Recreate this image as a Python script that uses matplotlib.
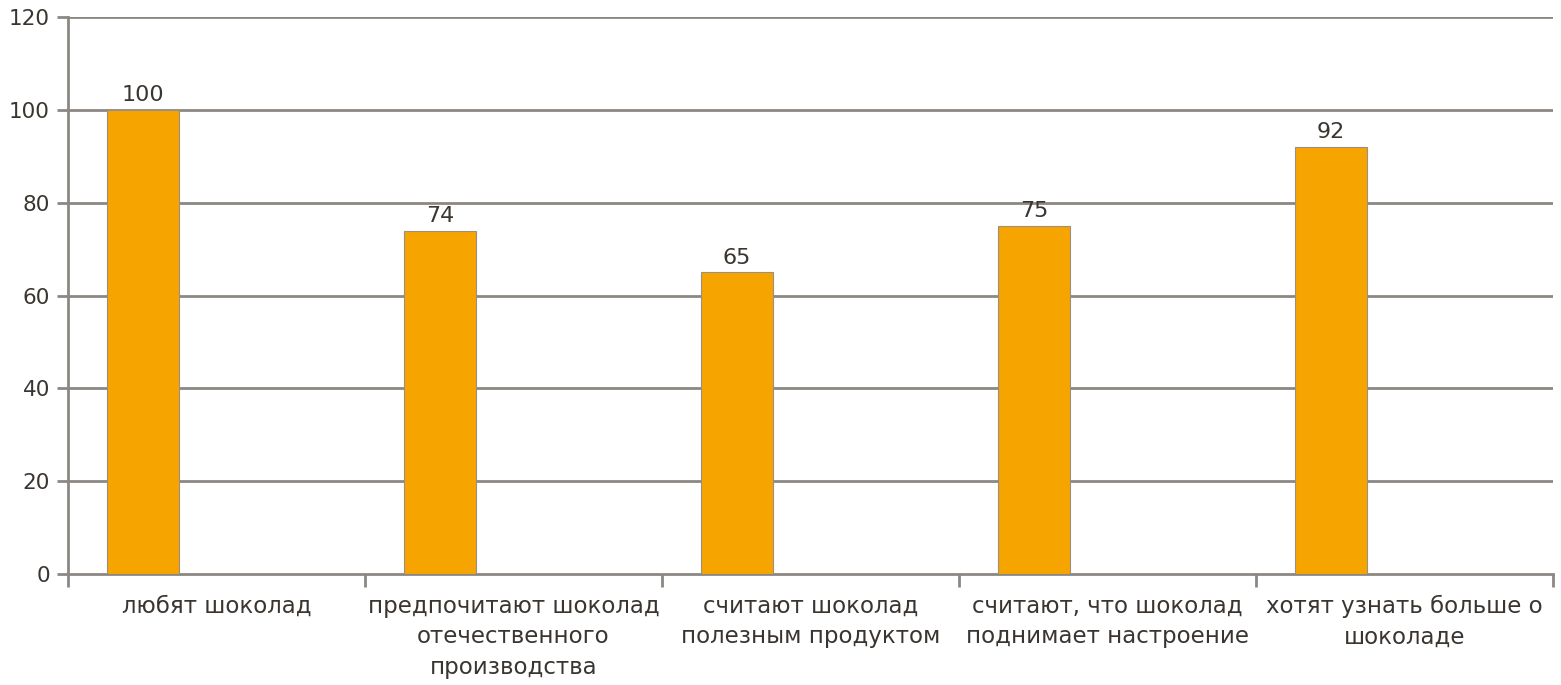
import numpy as np
import matplotlib
matplotlib.use("Agg")
import matplotlib.pyplot as plt

# Данные
categorias = [
    "любят шоколад",
    "предпочитают шоколад\nотечественного\nпроизводства",
    "считают шоколад\nполезным продуктом",
    "считают, что шоколад\nподнимает настроение",
    "хотят узнать больше о\nшоколаде",
]
valores = [100, 74, 65, 75, 92]
y_ticks = [0, 20, 40, 60, 80, 100, 120]

cor_barra = "#F5A400"
cor_linha = "#8C8782"
cor_texto = "#3A3530"

plt.rcParams["font.family"] = ["DejaVu Sans"]

fig = plt.figure(figsize=(15.61, 6.85), dpi=100)
ax = fig.add_axes([0.0436, 0.162, 0.9513, 0.813])

x = np.arange(len(categorias))
barras = ax.bar(x + 0.13, valores, width=0.245, align="edge",
                color=cor_barra, edgecolor="#9A8F80", linewidth=0.8, zorder=3)

for b, v in zip(barras, valores):
    ax.text(b.get_x() + b.get_width() / 2, v + 1.0, str(v),
            ha="center", va="bottom", fontsize=16, color=cor_texto)

ax.set_xlim(0, len(categorias))
ax.set_ylim(0, 120)
ax.set_yticks(y_ticks)
ax.tick_params(axis="y", labelsize=15.5, colors=cor_linha, labelcolor=cor_texto,
               length=8, width=2, pad=5)

# ticks nas fronteiras das categorias e rótulos no centro
ax.set_xticks(np.arange(len(categorias) + 1))
ax.set_xticklabels([])
ax.set_xticks(x + 0.5, minor=True)
ax.set_xticklabels(categorias, minor=True, fontsize=16.5, color=cor_texto,
                   linespacing=1.42, ha="center", va="top")
ax.tick_params(axis="x", which="major", length=9, width=2, colors=cor_linha)
ax.tick_params(axis="x", which="minor", length=0, pad=15)

for yv in y_ticks[1:]:
    ax.axhline(yv, color=cor_linha, linewidth=2, zorder=1)

for s in ["top", "right"]:
    ax.spines[s].set_visible(False)
for s in ["left", "bottom"]:
    ax.spines[s].set_color(cor_linha)
    ax.spines[s].set_linewidth(2)

fig.savefig("out.png", dpi=100)
